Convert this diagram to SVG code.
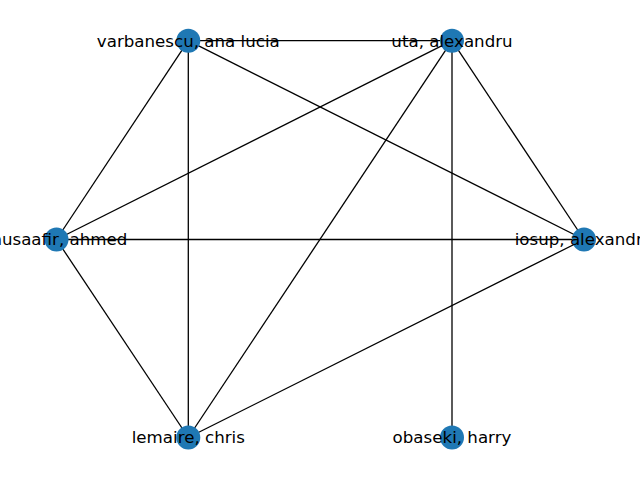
<svg xmlns="http://www.w3.org/2000/svg" width="640" height="480" viewBox="0 0 640 480">
<style>
.e{stroke:#000;stroke-width:1.3;fill:none}
.n{fill:#1f78b4}
.t{font-family:"DejaVu Sans",sans-serif;font-size:16.67px;fill:#000;text-anchor:middle}
</style>
<rect width="640" height="480" fill="#fff"/>
<g id="edges">
<line class="e" x1="188.3" y1="40.7" x2="452" y2="40.7"/>
<line class="e" x1="188.3" y1="40.7" x2="56.5" y2="239.5"/>
<line class="e" x1="188.3" y1="40.7" x2="188.3" y2="437.5"/>
<line class="e" x1="188.3" y1="40.7" x2="584" y2="239.5"/>
<line class="e" x1="452" y1="40.7" x2="56.5" y2="239.5"/>
<line class="e" x1="452" y1="40.7" x2="188.3" y2="437.5"/>
<line class="e" x1="452" y1="40.7" x2="584" y2="239.5"/>
<line class="e" x1="452" y1="40.7" x2="452" y2="437.5"/>
<line class="e" x1="56.5" y1="239.5" x2="584" y2="239.5"/>
<line class="e" x1="56.5" y1="239.5" x2="188.3" y2="437.5"/>
<line class="e" x1="188.3" y1="437.5" x2="584" y2="239.5"/>
</g>
<g id="node-varbanescu"><circle class="n" cx="188.3" cy="40.7" r="12"/><text class="t" x="188.3" y="46.5">varbanescu, ana lucia</text></g>
<g id="node-uta"><circle class="n" cx="452" cy="40.7" r="12"/><text class="t" x="452" y="46.5">uta, alexandru</text></g>
<g id="node-musaafir"><circle class="n" cx="56.5" cy="239.5" r="12"/><text class="t" x="56.5" y="245.3">musaafir, ahmed</text></g>
<g id="node-iosup"><circle class="n" cx="584" cy="239.5" r="12"/><text class="t" x="584" y="245.3">iosup, alexandru</text></g>
<g id="node-lemaire"><circle class="n" cx="188.3" cy="437.5" r="12"/><text class="t" x="188.3" y="443.3">lemaire, chris</text></g>
<g id="node-obaseki"><circle class="n" cx="452" cy="437.5" r="12"/><text class="t" x="452" y="443.3">obaseki, harry</text></g>
</svg>
